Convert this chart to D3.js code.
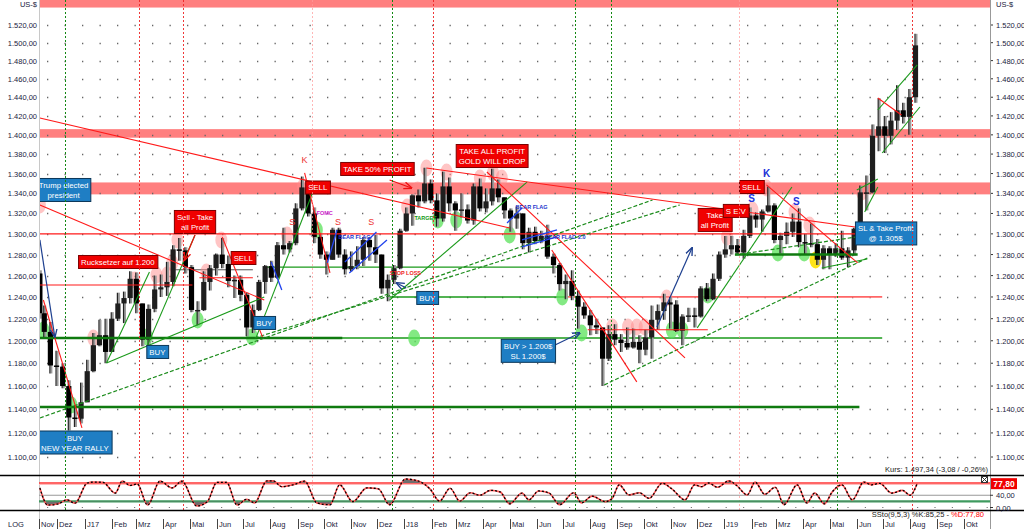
<!DOCTYPE html>
<html>
<head>
<meta charset="utf-8">
<script src="https://cdn.jsdelivr.net/npm/d3@7"></script>
<style>
  body { margin: 0; background: #fff; }
  svg { display: block; font-family: "Liberation Sans", Arial, sans-serif; }
</style>
</head>
<body>
<svg id="chart" width="1024" height="529"></svg>
<script>
// gold, weekly bars (week ending friday), US-$
var firstWeek = "2016-11-11";
var firstOpen = 1262;
var closes = [
  1225,1208,1178,1177,1160,1133,1132,1146,
  1173,1196,1205,1190, 1220,1234,1239,1257, 1234,1201,1229,1247,1249, 1254,1285,1284,1268,
  1228,1228,1254,1267, 1280,1271,1255,1256,1242, 1212,1228,1254,1269, 1258,1289,1285,1291,
  1325,1346,1320,1297,1280, 1275,1304,1280,1266, 1269,1275,1294,1287, 1280,1248,1256,1267,1303,
  1320,1338,1332,1350, 1333,1315,1347,1330, 1323,1324,1313,1347,1325, 1332,1345,1336,1323,
  1315,1320,1291,1302, 1293,1298,1278,1270,1252, 1255,1241,1231,1223, 1214,1212,1184,1206,1201,
  1198,1194,1199,1192, 1203,1219,1227,1235, 1233,1209,1222,1223,1222, 1248,1238,1257,1280,
  1285,1289,1282,1298, 1318,1314,1322,1328, 1294,1298,1302,1312,1292, 1291,1290,1275,1286,
  1280,1286,1277,1284,1305, 1341,1341,1399,1409, 1399,1415,1426,1419, 1440,1497
];
var highs = [
  1265,1232,1217,1191,1180,1165,1143,1163,
  1183,1207,1219,1220, 1226,1244,1245,1264, 1263,1233,1233,1260,1261, 1273,1289,1296,1287,
  1270,1236,1264,1270, 1281,1296,1279,1260,1260, 1244,1233,1256,1270, 1274,1292,1306,1293,
  1330,1357,1349,1326,1300, 1283,1306,1306,1285, 1283,1288,1297,1297, 1299,1278,1261,1270,1305,
  1326,1339,1344,1366, 1354,1340,1362,1356, 1332,1340,1329,1350,1355, 1345,1365,1354,1336,
  1325,1327,1319,1306, 1307,1303,1309,1281,1272, 1261,1265,1246,1235, 1228,1220,1212,1214,1215,
  1206,1212,1211,1205, 1210,1232,1233,1243, 1240,1237,1224,1230,1230, 1250,1253,1262,1283,
  1298,1298,1295,1304, 1326,1321,1324,1347, 1330,1301,1311,1320,1325, 1300,1310,1295,1289,
  1288,1291,1303,1287,1306, 1348,1358,1411,1439, 1420,1424,1453,1434, 1449,1510
];
var lows = [
  1220,1203,1171,1160,1158,1122,1125,1128,
  1146,1172,1195,1180, 1191,1218,1216,1234, 1225,1195,1196,1226,1240, 1241,1250,1274,1262,
  1226,1214,1227,1246, 1260,1267,1249,1239,1236, 1204,1207,1227,1243, 1254,1257,1280,1282,
  1289,1323,1317,1291,1276, 1261,1275,1277,1261, 1264,1266,1269,1274, 1272,1243,1236,1252,1266,
  1302,1308,1326,1330, 1330,1307,1312,1322, 1303,1316,1310,1309,1322, 1321,1328,1331,1315,
  1302,1305,1285,1282, 1290,1291,1276,1262,1246, 1238,1237,1211,1220, 1205,1206,1160,1182,1196,
  1190,1192,1193,1180, 1187,1184,1210,1219, 1211,1208,1196,1217,1212, 1221,1236,1237,1255,
  1277,1280,1280,1276, 1296,1306,1302,1321, 1291,1281,1290,1297,1287, 1280,1287,1270,1266,
  1266,1278,1275,1268,1279, 1305,1323,1340,1383, 1381,1390,1405,1412, 1400,1434
];

// slow stochastic, turning points
var oscDates = [
  "2016-11-11","2016-11-20","2016-12-02","2016-12-12","2016-12-21","2017-01-04","2017-01-11","2017-01-22",
  "2017-02-05","2017-02-13","2017-02-22","2017-03-02","2017-03-14","2017-03-28","2017-04-11","2017-04-22",
  "2017-05-09","2017-05-21","2017-06-01","2017-06-12","2017-06-24","2017-07-05","2017-07-14","2017-07-28",
  "2017-08-04","2017-08-14","2017-08-27","2017-09-09","2017-09-23","2017-10-08","2017-10-19","2017-11-03",
  "2017-11-19","2017-12-02","2017-12-15","2018-01-02","2018-01-15","2018-01-30","2018-02-10","2018-02-22",
  "2018-03-05","2018-03-17","2018-03-28","2018-04-09","2018-04-20","2018-05-01","2018-05-15","2018-05-23",
  "2018-06-03","2018-06-15","2018-06-27","2018-07-13","2018-07-22","2018-08-03","2018-08-18","2018-08-26",
  "2018-09-03","2018-09-14","2018-09-26","2018-10-07","2018-10-22","2018-11-02","2018-11-17","2018-11-28",
  "2018-12-06","2018-12-14","2018-12-24","2019-01-06","2019-01-15","2019-01-27","2019-02-05","2019-02-16",
  "2019-02-28","2019-03-10","2019-03-25","2019-04-05","2019-04-14","2019-04-25","2019-05-04","2019-05-15",
  "2019-05-27","2019-06-09","2019-06-18","2019-06-27","2019-07-11","2019-07-23","2019-08-01","2019-08-09"
];
var oscK = [
  64,8,12,25,14,80,83,82,
  47,86,72,77,8,86,64,86,
  5,19,82,82,8,27,15,87,
  87,68,74,86,15,9,74,19,
  64,61,9,93,88,61,21,63,
  21,48,40,56,51,12,47,25,
  54,47,9,48,15,37,19,30,
  74,41,48,30,79,61,25,74,
  68,80,66,87,72,41,83,43,
  66,9,74,15,47,12,51,74,
  25,83,74,79,47,56,40,79
];

var priceTicks = [1100,1120,1140,1160,1180,1200,1220,1240,1260,1280,1300,1320,1340,1360,1380,1400,1420,1440,1460,1480,1500,1520];
var monthLabels = ["Nov","Dez","J17","Feb","Mrz","Apr","Mai","Jun","Jul","Aug","Sep","Okt","Nov","Dez",
  "J18","Feb","Mrz","Apr","Mai","Jun","Jul","Aug","Sep","Okt","Nov","Dez",
  "J19","Feb","Mrz","Apr","Mai","Jun","Jul","Aug","Sep","Okt"];

// resistance / support zones [low, high]
var zones = [[1540,1552],[1397,1406],[1339,1351]];

// horizontal levels [price, from, to]
var redLevels = [
  [1300,"2016-11-10","2019-05-30"],
  [1251.2,"2016-11-10","2017-05-04"],
  [1258,"2017-05-12","2017-07-12"],
  [1210,"2018-07-29","2018-12-13"]
];
var pinkLevels = [[1240,"2018-07-03","2019-06-30"]];
var greenLevels = [
  [1202.5,"2016-11-10","2019-06-30"],
  [1268,"2017-07-28","2018-06-30"],
  [1240,"2017-12-15","2018-07-03"]
];
var greenStrongLevels = [
  [1202.5,"2016-11-10","2017-10-22"],
  [1142,"2016-11-10","2019-06-04"],
  [1280,"2019-01-13","2019-06-02"]
];
var grayLevels = [[1265.5,"2017-04-11","2017-07-12"]];

// trend lines [date1, price1, date2, price2]
var redTrends = [
  ["2016-11-11",1417.8,"2018-05-01",1305.7],
  ["2016-11-11",1328.4,"2017-07-25",1237.2],
  ["2018-01-26",1365.7,"2019-05-30",1306.7],
  ["2018-04-05",1361.6,"2018-11-17",1184.7],
  ["2018-06-18",1284.4,"2018-09-23",1163.6],
  ["2019-02-18",1348.5,"2019-06-02",1272.0],
  ["2017-09-09",1360.6,"2017-10-08",1262.5],
  ["2017-06-07",1297.0,"2017-07-23",1203.5],
  ["2016-11-15",1237.2,"2016-12-29",1124.2],
  ["2019-06-25",1439.2,"2019-07-22",1421.0]
];
var greenTrends = [
  ["2017-01-26",1180.2,"2017-03-16",1263.4],
  ["2017-03-13",1194.5,"2017-05-07",1298.9],
  ["2017-01-26",1180.2,"2017-07-25",1240.0],
  ["2017-07-16",1203.5,"2017-09-18",1340.4],
  ["2017-12-15",1237.2,"2018-05-21",1351.5],
  ["2018-12-01",1211.6,"2019-03-19",1346.4],
  ["2019-04-22",1267.2,"2019-06-13",1275.8],
  ["2019-06-25",1426.3,"2019-08-09",1475.2],
  ["2019-06-30",1381.1,"2019-08-12",1429.5],
  ["2019-06-01",1343.4,"2019-06-25",1354.5],
  ["2019-06-10",1321.5,"2019-06-25",1346.4]
];
var greenDashed = [
  ["2016-11-11",1132.6,"2018-10-11",1333.4],
  ["2017-07-14",1202.5,"2018-11-11",1328.4],
  ["2018-08-17",1161.0,"2019-06-13",1276.7],
  ["2019-01-13",1279.6,"2019-06-01",1297.0]
];
var blueTrends = [
  ["2017-08-02",1272.9,"2017-08-14",1246.5],
  ["2017-10-05",1272.0,"2017-10-16",1303.8],
  ["2017-10-30",1262.5,"2017-12-12",1294.1],
  ["2017-10-25",1272.9,"2017-11-30",1301.8],
  ["2018-04-28",1310.6,"2018-05-15",1325.4],
  ["2018-05-15",1287.3,"2018-06-24",1297.0],
  ["2018-05-15",1294.1,"2018-06-24",1303.8]
];
var blueArrows = [
  ["2016-11-11",1294.1,"2016-11-28",1203.5],
  ["2018-10-16",1212.5,"2018-11-25",1286.3],
  ["2018-06-10",1191.8,"2018-07-20",1207.0],
  ["2018-01-03",1248.4,"2017-12-23",1253.1]
];
var redArrows = [
  ["2017-12-15",1353.5,"2018-01-09",1345.4],
  ["2017-05-07",1298.9,"2017-04-25",1274.8]
];

// marked highs / lows [date, price]
var pinkMarks = [
  ["2016-11-11",1328.4],["2017-01-11",1202.5],["2017-02-27",1255.9],["2017-03-24",1260.6],["2017-04-05",1260.6],
  ["2017-04-11",1272.0],["2017-04-17",1294.1],["2017-05-20",1263.4],["2017-06-06",1294.1],["2017-08-20",1298.9],
  ["2017-09-07",1346.4],["2018-01-04",1326.4],["2018-01-16",1343.4],["2018-01-26",1365.7],["2018-02-18",1361.6],
  ["2018-03-28",1355.5],["2018-04-12",1360.6],["2018-04-22",1355.5],["2018-08-26",1212.5],["2018-09-13",1212.5],
  ["2018-09-23",1212.5],["2018-10-02",1212.5],["2018-10-27",1239.1],["2019-01-04",1297.0],["2019-02-02",1323.4],
  ["2019-02-18",1345.4],["2019-03-22",1321.5],["2019-04-08",1308.7],["2019-06-07",1341.4]
];
var greenMarks = [
  ["2016-11-15",1209.8],["2016-12-17",1143.7],["2017-03-13",1203.5],["2017-05-10",1218.8],["2017-07-11",1203.5],
  ["2017-09-23",1303.8],["2018-01-12",1202.5],["2018-02-08",1313.6],["2018-03-01",1313.6],["2018-05-01",1298.9],
  ["2018-06-30",1240.0],["2018-07-22",1207.0],["2018-11-02",1209.8],["2018-11-14",1209.8],["2018-12-13",1241.9],
  ["2019-03-03",1281.5],["2019-04-02",1281.5]
];
var yellowMarks = [["2019-04-15",1274.8]];

// labels [date, price, text]  ("|" = line break)
var redBoxes = [
  ["2017-02-08",1272.9,"Rucksetzer auf 1.200"],
  ["2017-05-07",1311.6,"Sell - Take|all Profit"],
  ["2017-07-01",1276.7,"SELL"],
  ["2017-09-24",1345.9,"SELL"],
  ["2017-12-01",1364.7,"TAKE 50% PROFIT"],
  ["2018-04-11",1378.0,"TAKE ALL PROFIT|GOLD WILL DROP"],
  ["2018-12-21",1313.6,"Take|all Profit"],
  ["2019-01-14",1322.5,"S E V"],
  ["2019-02-01",1346.4,"SELL"]
];
var blueBoxes = [
  ["2016-12-08",1343.4,"Trump elected|president"],
  ["2016-12-21",1112.0,"BUY|NEW YEAR RALLY"],
  ["2017-03-25",1190.0,"BUY"],
  ["2017-07-25",1216.1,"BUY"],
  ["2018-01-27",1239.1,"BUY"],
  ["2018-05-22",1191.0,"BUY > 1.200$|SL 1.200$"],
  ["2019-07-04",1300.4,"SL & Take Profit|@ 1.305$"]
];
var redLetters = [["2017-09-09",1373.9,"K"],["2017-08-26",1311.6,"S"],["2017-10-17",1311.6,"S"],["2017-11-24",1311.6,"S"]];
var blueLetters = [["2019-02-18",1359.6,"K"],["2019-02-01",1334.4,"S"],["2019-03-24",1331.4,"S"]];
var smallTexts = [
  ["2017-11-05",1297.0,"BEAR FLAG","#2233cc"],
  ["2018-05-26",1326.4,"BEAR FLAG","#2233cc"],
  ["2018-07-03",1297.0,"BEAR FLAG 2.0","#2233cc"],
  ["2018-01-25",1315.5,"TARGET","#119911"],
  ["2018-01-02",1262.5,"STOP LOSS","#ee2222"],
  ["2017-10-02",1320.7,"FOMC","#cc22cc"]
];

var greenVLines = ["2016-12-10","2017-12-18","2018-07-14","2018-08-25","2019-05-10"];
var redVLines = ["2017-03-04","2017-04-23","2018-02-03","2019-08-03"];
var pinkVLines = ["2017-09-18","2019-01-18"];

var lastPrice = "Kurs: 1.497,34 (-3,08 / -0,26%)";
var ssto = ["SSto(9,5,3) %K:85,25 - ", "%D:77,80"];
var sstoLast = 77.80;

// ---------------------------------------------------------------
var parse = d3.timeParse("%Y-%m-%d");
var de = d3.formatLocale({decimal: ",", thousands: ".", grouping: [3], currency: ["", "$"]});
var fmt = de.format(",.2f");

var svg = d3.select("#chart");
var L = 39, R = 990;

var x = d3.scaleTime().domain([parse("2016-11-10"), parse("2019-10-31")]).range([L, R]);
var y = d3.scaleLog().domain([1100, 1520]).range([457, 25]);
var yo = d3.scaleLinear().domain([0, 80]).range([507.5, 483]);

var defs = svg.append("defs");
defs.append("clipPath").attr("id", "main").append("rect").attr("x", L).attr("y", 0).attr("width", R - L).attr("height", 475);
defs.append("clipPath").attr("id", "osc").append("rect").attr("x", L).attr("y", 476).attr("width", R - L).attr("height", 33);
defs.append("clipPath").attr("id", "oscHi").append("rect").attr("x", L).attr("y", 476).attr("width", R - L).attr("height", yo(80) - 476);
defs.append("clipPath").attr("id", "oscLo").append("rect").attr("x", L).attr("y", yo(20)).attr("width", R - L).attr("height", 509 - yo(20));

var mk = defs.append("marker").attr("id", "arrNavy").attr("viewBox", "0 0 10 10").attr("refX", 9).attr("refY", 5)
  .attr("markerWidth", 7).attr("markerHeight", 7).attr("orient", "auto");
mk.append("path").attr("d", "M0,1L10,5L0,9").attr("fill", "none").attr("stroke", "#1d3f8f").attr("stroke-width", 1.6);
var mk2 = defs.append("marker").attr("id", "arrRed").attr("viewBox", "0 0 10 10").attr("refX", 9).attr("refY", 5)
  .attr("markerWidth", 7).attr("markerHeight", 7).attr("orient", "auto");
mk2.append("path").attr("d", "M0,1L10,5L0,9").attr("fill", "none").attr("stroke", "#e11").attr("stroke-width", 1.6);

svg.append("rect").attr("width", 1024).attr("height", 529).attr("fill", "#fff");

var main = svg.append("g").attr("clip-path", "url(#main)");

// zones
main.selectAll(".zone").data(zones).enter().append("rect")
  .attr("x", L).attr("width", R - L)
  .attr("y", function(d) { return y(d[1]); })
  .attr("height", function(d) { return y(d[0]) - y(d[1]); })
  .attr("fill", "#ff7f7f");

// dotted grid
main.selectAll(".grid").data(priceTicks).enter().append("line")
  .attr("x1", L + 8).attr("x2", R).attr("y1", function(d) { return Math.round(y(d)) + 0.5; })
  .attr("y2", function(d) { return Math.round(y(d)) + 0.5; })
  .attr("stroke", "#666").attr("stroke-width", 1.3).attr("stroke-dasharray", "1.3,16.2");

// vertical marker lines (through both panels)
function vlines(list, color, op) {
  svg.append("g").selectAll("line").data(list).enter().append("line")
    .attr("x1", function(d) { return Math.round(x(parse(d))) + 0.5; })
    .attr("x2", function(d) { return Math.round(x(parse(d))) + 0.5; })
    .attr("y1", 0).attr("y2", 510)
    .attr("stroke", color).attr("stroke-opacity", op).attr("stroke-width", 1).attr("stroke-dasharray", "2,2");
}
vlines(greenVLines, "#118811", 1);
vlines(redVLines, "#ee2222", 0.9);
vlines(pinkVLines, "#ff9999", 0.7);

function levels(list, color, w) {
  main.append("g").selectAll("line").data(list).enter().append("line")
    .attr("x1", function(d) { return x(parse(d[1])); })
    .attr("x2", function(d) { return x(parse(d[2])); })
    .attr("y1", function(d) { return y(d[0]); })
    .attr("y2", function(d) { return y(d[0]); })
    .attr("stroke", color).attr("stroke-width", w);
}
levels(greenLevels, "#1a9a1a", 1.4);
levels(pinkLevels, "#ff6666", 1.8);
levels(grayLevels, "#555", 1);

// marked highs and lows
function marks(list, color) {
  main.append("g").selectAll("ellipse").data(list).enter().append("ellipse")
    .attr("cx", function(d) { return x(parse(d[0])); })
    .attr("cy", function(d) { return y(d[1]); })
    .attr("rx", 6).attr("ry", 8.5).attr("fill", color);
}
marks(pinkMarks, "rgba(255,140,140,0.5)");
marks(greenMarks, "rgba(90,225,90,0.75)");
marks(yellowMarks, "rgba(255,225,0,0.9)");

// candles
var weeks = closes.map(function(c, i) { return d3.timeDay.offset(parse(firstWeek), 7 * i); });
var bars = closes.map(function(c, i) {
  var o = i ? closes[i - 1] : firstOpen;
  return {date: weeks[i], o: o, c: c, h: Math.max(highs[i], o, c), l: Math.min(lows[i], o, c)};
});
var xMin = x(parse(firstWeek));
function bx(d) { return Math.max(xMin, x(d3.timeDay.offset(d.date, -2))); }
var cg = main.append("g");
cg.selectAll(".wick").data(bars).enter().append("line")
  .attr("x1", function(d) { return bx(d) + 1; })
  .attr("x2", function(d) { return bx(d) + 1; })
  .attr("y1", function(d) { return y(d.h); })
  .attr("y2", function(d) { return y(d.l); })
  .attr("stroke", "#9a9a9a").attr("stroke-width", 2);
cg.selectAll(".wick2").data(bars).enter().append("line")
  .attr("x1", function(d) { return bx(d) - 0.5; })
  .attr("x2", function(d) { return bx(d) - 0.5; })
  .attr("y1", function(d) { return y(d.h); })
  .attr("y2", function(d) { return y(d.l); })
  .attr("stroke", "#222").attr("stroke-width", 1.2);
cg.selectAll(".body").data(bars).enter().append("rect")
  .attr("x", function(d) { return bx(d) - 2.6; })
  .attr("width", 5.2)
  .attr("y", function(d) { return y(Math.max(d.o, d.c)); })
  .attr("height", function(d) { return Math.max(1.5, Math.abs(y(d.o) - y(d.c))); })
  .attr("fill", function(d) { return d.c >= d.o ? "#1e1e1e" : "#000"; });

levels(redLevels, "#ff1a1a", 1.1);
levels(greenStrongLevels, "#0f7a0f", 2.6);

function trends(list, color, w, dash, marker) {
  main.append("g").selectAll("line").data(list).enter().append("line")
    .attr("x1", function(d) { return x(parse(d[0])); })
    .attr("y1", function(d) { return y(d[1]); })
    .attr("x2", function(d) { return x(parse(d[2])); })
    .attr("y2", function(d) { return y(d[3]); })
    .attr("stroke", color).attr("stroke-width", w)
    .attr("stroke-dasharray", dash || null)
    .attr("marker-end", marker || null);
}
trends(greenDashed, "#1c8c1c", 1.2, "4,2");
trends(greenTrends, "#1a9a1a", 1.1);
trends(redTrends, "#ff1a1a", 1.1);
trends(blueTrends, "#2244ee", 1.3);
trends(blueArrows, "#1d3f8f", 1.2, null, "url(#arrNavy)");
trends(redArrows, "#e11", 1.2, null, "url(#arrRed)");

// text labels
function box(list, fill, stroke) {
  list.forEach(function(d) {
    var lines = d[2].split("|");
    var g = main.append("g");
    var cx = x(parse(d[0])), cy = y(d[1]);
    var t = g.append("text").attr("text-anchor", "middle").attr("fill", "#fff").attr("font-size", 7.8);
    lines.forEach(function(s, i) {
      t.append("tspan").attr("x", cx).attr("y", cy + 3 + (i - (lines.length - 1) / 2) * 10).text(s);
    });
    var bb = t.node().getBBox();
    g.insert("rect", "text")
      .attr("x", bb.x - 2.5).attr("y", cy - (lines.length * 10 + 3) / 2)
      .attr("width", bb.width + 5).attr("height", lines.length * 10 + 3)
      .attr("fill", fill).attr("stroke", stroke).attr("stroke-width", 1);
  });
}
box(redBoxes, "#f00000", "#7a0000");
box(blueBoxes, "#1f7ec4", "#0b3658");

main.append("g").selectAll("text").data(redLetters).enter().append("text")
  .attr("x", function(d) { return x(parse(d[0])); }).attr("y", function(d) { return y(d[1]) + 3; })
  .attr("text-anchor", "middle").attr("font-size", 9).attr("fill", "#ee3333").text(function(d) { return d[2]; });
main.append("g").selectAll("text").data(blueLetters).enter().append("text")
  .attr("x", function(d) { return x(parse(d[0])); }).attr("y", function(d) { return y(d[1]) + 3.5; })
  .attr("text-anchor", "middle").attr("font-size", 10).attr("font-weight", "bold").attr("fill", "#2233dd").text(function(d) { return d[2]; });
main.append("g").selectAll("text").data(smallTexts).enter().append("text")
  .attr("x", function(d) { return x(parse(d[0])); }).attr("y", function(d) { return y(d[1]) + 2; })
  .attr("text-anchor", "middle").attr("font-size", 5.5).attr("font-weight", "bold")
  .attr("fill", function(d) { return d[3]; }).text(function(d) { return d[2]; });

// price axes
var axL = svg.append("g");
axL.selectAll("text").data(priceTicks).enter().append("text")
  .attr("x", 37).attr("y", function(d) { return y(d) + 3; })
  .attr("text-anchor", "end").attr("font-size", 7.5).attr("fill", "#1a1a3c").text(fmt);
axL.append("text").attr("x", 37).attr("y", 7).attr("text-anchor", "end").attr("font-size", 7.5).attr("fill", "#1a1a3c").text("US-$");
var axR = svg.append("g");
axR.selectAll("line").data(priceTicks).enter().append("line")
  .attr("x1", R).attr("x2", R + 3).attr("y1", function(d) { return y(d); }).attr("y2", function(d) { return y(d); })
  .attr("stroke", "#333");
axR.selectAll("text").data(priceTicks).enter().append("text")
  .attr("x", 996).attr("y", function(d) { return y(d) + 3; })
  .attr("font-size", 7.5).attr("fill", "#1a1a3c").text(fmt);
axR.append("text").attr("x", 996).attr("y", 7).attr("font-size", 7.5).attr("fill", "#1a1a3c").text("US-$");

svg.append("line").attr("x1", L + 0.5).attr("x2", L + 0.5).attr("y1", 0).attr("y2", 529).attr("stroke", "#c8c8c8");
svg.append("line").attr("x1", R + 0.5).attr("x2", R + 0.5).attr("y1", 0).attr("y2", 529).attr("stroke", "#999");

svg.append("text").attr("x", 988).attr("y", 472).attr("text-anchor", "end").attr("font-size", 7.5)
  .attr("fill", "#222").text(lastPrice);

// oscillator panel
var osc = oscDates.map(function(d, i) { return {date: parse(d), v: oscK[i]}; });
svg.append("line").attr("x1", 0).attr("x2", 1024).attr("y1", 475.5).attr("y2", 475.5).attr("stroke", "#000").attr("stroke-width", 1.5);
svg.append("line").attr("x1", 0).attr("x2", 1024).attr("y1", 510.5).attr("y2", 510.5).attr("stroke", "#000").attr("stroke-width", 1.5);

var og = svg.append("g").attr("clip-path", "url(#osc)");
og.append("line").attr("x1", L).attr("x2", R).attr("y1", yo(80)).attr("y2", yo(80)).attr("stroke", "#f33").attr("stroke-width", 1.6);
og.append("line").attr("x1", L).attr("x2", R).attr("y1", yo(80) + 1.5).attr("y2", yo(80) + 1.5).attr("stroke", "#fbb").attr("stroke-width", 1.2);
og.append("line").attr("x1", L).attr("x2", R).attr("y1", yo(40)).attr("y2", yo(40)).attr("stroke", "#999").attr("stroke-width", 1.2);
og.append("line").attr("x1", L).attr("x2", R).attr("y1", yo(20)).attr("y2", yo(20)).attr("stroke", "#3f9a5f").attr("stroke-width", 2.2);
og.append("line").attr("x1", L + 8).attr("x2", R).attr("y1", yo(0)).attr("y2", yo(0))
  .attr("stroke", "#777").attr("stroke-width", 1.2).attr("stroke-dasharray", "1.2,16.2");

var curve = d3.curveMonotoneX;
og.append("path").datum(osc).attr("clip-path", "url(#oscHi)").attr("fill", "#6e6e6e")
  .attr("d", d3.area().curve(curve).x(function(d) { return x(d.date); }).y0(yo(80)).y1(function(d) { return yo(d.v); }));
og.append("path").datum(osc).attr("clip-path", "url(#oscLo)").attr("fill", "#6e6e6e")
  .attr("d", d3.area().curve(curve).x(function(d) { return x(d.date); }).y0(yo(20)).y1(function(d) { return yo(d.v); }));
var oline = d3.line().curve(curve).x(function(d) { return x(d.date); }).y(function(d) { return yo(d.v); });
og.append("path").datum(osc).attr("fill", "none").attr("stroke", "#f55").attr("stroke-width", 1.6).attr("d", oline);
og.append("path").datum(osc).attr("fill", "none").attr("stroke", "#000").attr("stroke-width", 1.3)
  .attr("stroke-dasharray", "2,2").attr("d", oline);

svg.append("rect").attr("x", 991).attr("y", yo(sstoLast) - 5.5).attr("width", 26).attr("height", 11).attr("fill", "#f00000");
svg.append("text").attr("x", 1004).attr("y", yo(sstoLast) + 3).attr("text-anchor", "middle").attr("font-size", 8.5)
  .attr("font-weight", "bold").attr("fill", "#fff").text(de.format(",.2f")(sstoLast));
svg.append("rect").attr("x", 981.5).attr("y", 476.5).attr("width", 6).attr("height", 6).attr("fill", "#fff").attr("stroke", "#333");
svg.append("path").attr("d", "M982,477L987,482M987,477L982,482").attr("stroke", "#333");
[40, 0].forEach(function(v) {
  svg.append("line").attr("x1", R).attr("x2", R + 3).attr("y1", yo(v)).attr("y2", yo(v)).attr("stroke", "#333");
  svg.append("text").attr("x", 996).attr("y", yo(v) + 3).attr("font-size", 7.5).attr("fill", "#1a1a3c").text(fmt(v));
});
var st = svg.append("text").attr("x", 984).attr("y", 517).attr("text-anchor", "end").attr("font-size", 7.5).attr("fill", "#222");
st.append("tspan").text(ssto[0]);
st.append("tspan").attr("fill", "#f00").text(ssto[1]);

// time axis
var months = [parse("2016-11-10")].concat(d3.timeMonth.range(parse("2016-12-01"), parse("2019-10-02")));
var ax = svg.append("g");
ax.selectAll("line").data(months).enter().append("line")
  .attr("x1", function(d) { return Math.round(x(d)) + 0.5; })
  .attr("x2", function(d) { return Math.round(x(d)) + 0.5; })
  .attr("y1", 519).attr("y2", 529).attr("stroke", "#444");
ax.selectAll("text").data(months).enter().append("text")
  .attr("x", function(d) { return Math.round(x(d)) + 2; }).attr("y", 527)
  .attr("font-size", 7.5).attr("fill", "#1a1a3c")
  .text(function(d, i) { return monthLabels[i]; });
ax.append("text").attr("x", 16).attr("y", 527).attr("text-anchor", "middle").attr("font-size", 7.5).attr("fill", "#1a1a3c").text("LOG");
</script>
</body>
</html>
